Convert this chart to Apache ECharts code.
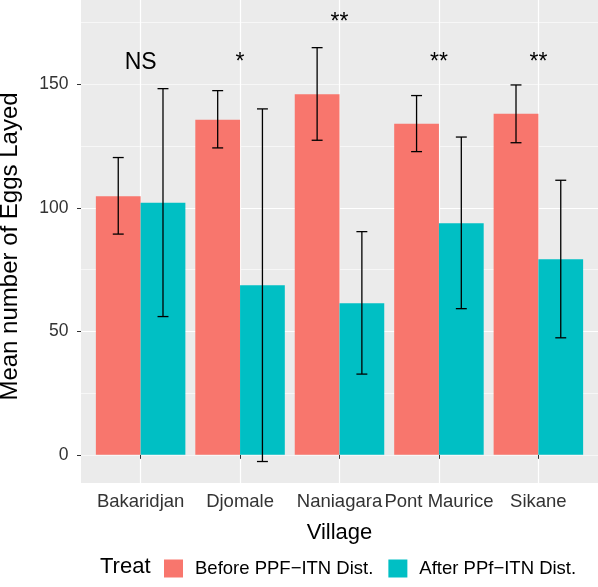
<!DOCTYPE html>
<html>
<head>
<meta charset="utf-8">
<script src="https://cdn.jsdelivr.net/npm/echarts@6/dist/echarts.min.js"></script>
<style>
html,body{margin:0;padding:0;background:#fff;}
#chart{width:598px;height:587px;}
</style>
</head>
<body>
<div id="chart"></div>
<script>
const categories = ['Bakaridjan', 'Djomale', 'Naniagara', 'Pont Maurice', 'Sikane'];
const before = [104.7, 135.7, 146.0, 134.1, 138.1];
const beforeLow = [89.4, 124.3, 127.4, 122.8, 126.4];
const beforeHigh = [120.4, 147.5, 164.9, 145.5, 149.8];
const after = [102.1, 68.7, 61.4, 93.8, 79.2];
const afterLow = [56.0, -2.7, 32.7, 59.2, 47.4];
const afterHigh = [148.3, 140.1, 90.4, 128.7, 111.2];
const sigLabels = ['NS', '*', '**', '**', '**'];
const sigY = [159, 159, 175, 159, 159];
const yTicks = [0, 50, 100, 150];

const FONT = '"Liberation Sans", Arial, Helvetica, sans-serif';
const Y_MIN = -11.4, Y_MAX = 184.2;

function errData(low, high) {
  return categories.map((c, i) => [i, low[i], high[i]]);
}
function errRender(side) {
  return function (params, api) {
    const idx = api.value(0);
    const band = api.size([1, 0])[0];
    const c = api.coord([idx, 0])[0] + side * band * 0.225;
    const yl = api.coord([idx, api.value(1)])[1];
    const yh = api.coord([idx, api.value(2)])[1];
    const hw = band * 0.055;
    const st = { stroke: '#000', lineWidth: 1.3 };
    return {
      type: 'group',
      children: [
        { type: 'line', shape: { x1: c, y1: yl, x2: c, y2: yh }, style: st },
        { type: 'line', shape: { x1: c - hw, y1: yh, x2: c + hw, y2: yh }, style: st },
        { type: 'line', shape: { x1: c - hw, y1: yl, x2: c + hw, y2: yl }, style: st }
      ]
    };
  };
}

const chart = echarts.init(document.getElementById('chart'), null, { renderer: 'canvas' });
chart.setOption({
  animation: false,
  backgroundColor: '#fff',
  textStyle: { fontFamily: FONT },
  title: {
    text: 'Treat', left: 100, top: 556, padding: 0,
    textStyle: { fontSize: 22, fontWeight: 'normal', color: '#000', fontFamily: FONT }
  },
  legend: {
    left: 164, top: 559, padding: 0,
    itemWidth: 19, itemHeight: 18, itemGap: 15,
    icon: 'rect',
    selectedMode: false,
    data: ['Before PPF\u2212ITN Dist.', 'After PPf\u2212ITN Dist.'],
    textStyle: { fontSize: 18.5, color: '#000', fontFamily: FONT, padding: [0, 0, 0, 7] }
  },
  grid: [
    { left: 81, right: 0, top: 0, bottom: 104, show: true, backgroundColor: '#EBEBEB', borderWidth: 0,
      containLabel: false, outerBoundsMode: 'none' },
    { left: 90.9, right: 9.9, top: 0, bottom: 104, show: false, containLabel: false, outerBoundsMode: 'none' }
  ],
  xAxis: [
    {
      type: 'value', gridIndex: 0, min: 0.4, max: 5.6, splitNumber: 5, show: true,
      axisLine: { show: false }, axisTick: { show: false }, axisLabel: { show: false },
      splitLine: { show: true, showMinLine: false, showMaxLine: false, lineStyle: { color: '#ffffff', width: 1.2 } }
    },
    {
      type: 'category', gridIndex: 1, data: categories, boundaryGap: true,
      axisLine: { show: false },
      axisTick: { show: true, alignWithLabel: true, length: 4, lineStyle: { color: '#333', width: 1 } },
      axisLabel: { show: true, interval: 0, hideOverlap: false, margin: 9.4, fontSize: 18.5, color: '#333', fontFamily: FONT },
      splitLine: { show: false },
      name: 'Village', nameLocation: 'middle', nameGap: 38.5, nameMoveOverlap: false,
      nameTextStyle: { fontSize: 22, color: '#000', fontFamily: FONT }
    }
  ],
  yAxis: [
    {
      type: 'value', gridIndex: 0, min: Y_MIN, max: Y_MAX, minInterval: 50, maxInterval: 50,
      axisLine: { show: false },
      axisTick: { show: true, length: 4, customValues: yTicks, lineStyle: { color: '#333', width: 1 } },
      axisLabel: {
        show: true, margin: 12.5, fontSize: 17.5, color: '#333', fontFamily: FONT, customValues: yTicks,
        formatter: v => (Math.abs(v % 50) < 1e-6 ? String(v) : '')
      },
      splitLine: { show: true, showMinLine: false, showMaxLine: false, lineStyle: { color: '#fff', width: 1.2 } },
      name: 'Mean number of Eggs Layed', nameLocation: 'middle', nameGap: 58.5, nameMoveOverlap: false,
      nameTextStyle: { fontSize: 24, color: '#000', fontFamily: FONT, padding: [0, 10, 0, 0] }
    },
    {
      type: 'value', gridIndex: 0, min: Y_MIN, max: Y_MAX, minInterval: 25, maxInterval: 25,
      axisLine: { show: false }, axisTick: { show: false }, axisLabel: { show: false },
      splitLine: { show: true, showMinLine: false, showMaxLine: false, lineStyle: { color: '#fff', width: 0.6 } }
    },
    {
      type: 'value', gridIndex: 1, min: Y_MIN, max: Y_MAX, show: false,
      splitLine: { show: false }
    }
  ],
  series: [
    {
      name: 'Before PPF\u2212ITN Dist.', type: 'bar', xAxisIndex: 1, yAxisIndex: 2,
      data: before, barGap: '0%', barCategoryGap: '10%',
      itemStyle: { color: '#F8766D' }
    },
    {
      name: 'After PPf\u2212ITN Dist.', type: 'bar', xAxisIndex: 1, yAxisIndex: 2,
      data: after, barGap: '0%', barCategoryGap: '10%',
      itemStyle: { color: '#00BFC4' }
    },
    {
      name: 'errBefore', type: 'custom', xAxisIndex: 1, yAxisIndex: 2,
      data: errData(beforeLow, beforeHigh), renderItem: errRender(-1),
      encode: { x: 0, y: [1, 2] }, z: 5
    },
    {
      name: 'errAfter', type: 'custom', xAxisIndex: 1, yAxisIndex: 2,
      data: errData(afterLow, afterHigh), renderItem: errRender(1),
      encode: { x: 0, y: [1, 2] }, z: 5
    },
    {
      name: 'sig', type: 'custom', xAxisIndex: 1, yAxisIndex: 2,
      data: categories.map((c, i) => [i, sigY[i]]),
      encode: { x: 0, y: 1 }, z: 6,
      renderItem: function (params, api) {
        const p = api.coord([api.value(0), api.value(1)]);
        return {
          type: 'text',
          style: {
            x: p[0], y: p[1], text: sigLabels[params.dataIndex],
            align: 'center', verticalAlign: 'middle',
            fontSize: 23, fontFamily: FONT, fill: '#000'
          }
        };
      }
    }
  ]
});
</script>
</body>
</html>
